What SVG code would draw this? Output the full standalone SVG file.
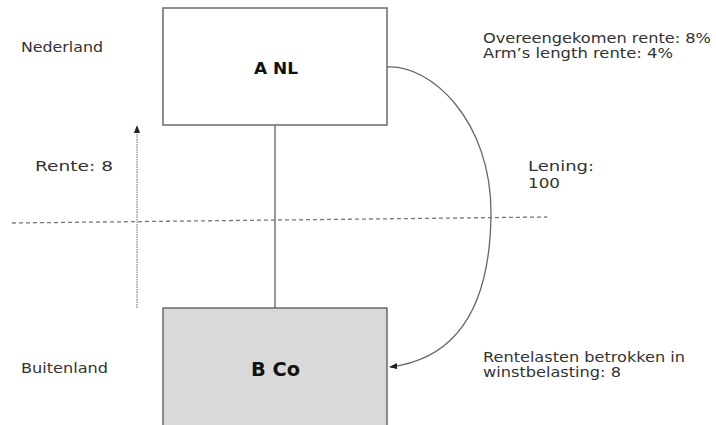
<svg xmlns="http://www.w3.org/2000/svg" width="716" height="425" viewBox="0 0 716 425">
<style>
.lbl{font-family:"DejaVu Sans","Liberation Sans",sans-serif;font-size:13.5px;fill:#333}
.big{font-family:"DejaVu Sans","Liberation Sans",sans-serif;font-weight:bold;fill:#111}
.box{stroke:#6a6a6a;stroke-width:1.5}
</style>
<defs>
<marker id="ah" viewBox="0 0 10 10" refX="9" refY="5" markerWidth="8" markerHeight="8" markerUnits="userSpaceOnUse" orient="auto">
<path d="M0,1 L10,5 L0,9 z" fill="#222"/>
</marker>
</defs>
<rect width="716" height="425" fill="#fff"/>
<g id="connectors" fill="none">
<line x1="12" y1="223" x2="547" y2="217" stroke="#777" stroke-width="1.3" stroke-dasharray="4,3"/>
<line x1="137" y1="308" x2="137" y2="126" stroke="#888" stroke-width="1.3" stroke-dasharray="1.5,1" marker-end="url(#ah)"/>
<line x1="275" y1="125" x2="275" y2="308" stroke="#777" stroke-width="1.5"/>
<path d="M387,67 C430,64 492,120 491,215 C490,300 462,358 390,367" stroke="#666" stroke-width="1.3" marker-end="url(#ah)"/>
</g>
<g id="a-nl">
<rect x="163" y="8" width="224" height="117" fill="#fff" class="box"/>
<text x="276" y="74" class="big" font-size="16" text-anchor="middle" textLength="44" lengthAdjust="spacingAndGlyphs">A NL</text>
</g>
<g id="b-co">
<rect x="163" y="308" width="224" height="125" fill="#d9d9d9" class="box"/>
<text x="275.5" y="376" class="big" font-size="19" text-anchor="middle" textLength="49" lengthAdjust="spacingAndGlyphs">B Co</text>
</g>
<g id="labels">
<text x="21" y="52" class="lbl" textLength="82" lengthAdjust="spacingAndGlyphs">Nederland</text>
<text x="21" y="373" class="lbl" textLength="87" lengthAdjust="spacingAndGlyphs">Buitenland</text>
<text x="35" y="171" class="lbl" font-size="15" textLength="78" lengthAdjust="spacingAndGlyphs">Rente: 8</text>
<text x="483" y="43" class="lbl" textLength="228" lengthAdjust="spacingAndGlyphs">Overeengekomen rente: 8%</text>
<text x="483" y="58" class="lbl" textLength="190" lengthAdjust="spacingAndGlyphs">Arm’s length rente: 4%</text>
<text x="528" y="171" class="lbl" font-size="14" textLength="66" lengthAdjust="spacingAndGlyphs">Lening:</text>
<text x="528" y="188" class="lbl" font-size="14" textLength="32" lengthAdjust="spacingAndGlyphs">100</text>
<text x="483" y="362" class="lbl" textLength="202" lengthAdjust="spacingAndGlyphs">Rentelasten betrokken in</text>
<text x="483" y="377" class="lbl" textLength="138" lengthAdjust="spacingAndGlyphs">winstbelasting: 8</text>
</g>
</svg>
